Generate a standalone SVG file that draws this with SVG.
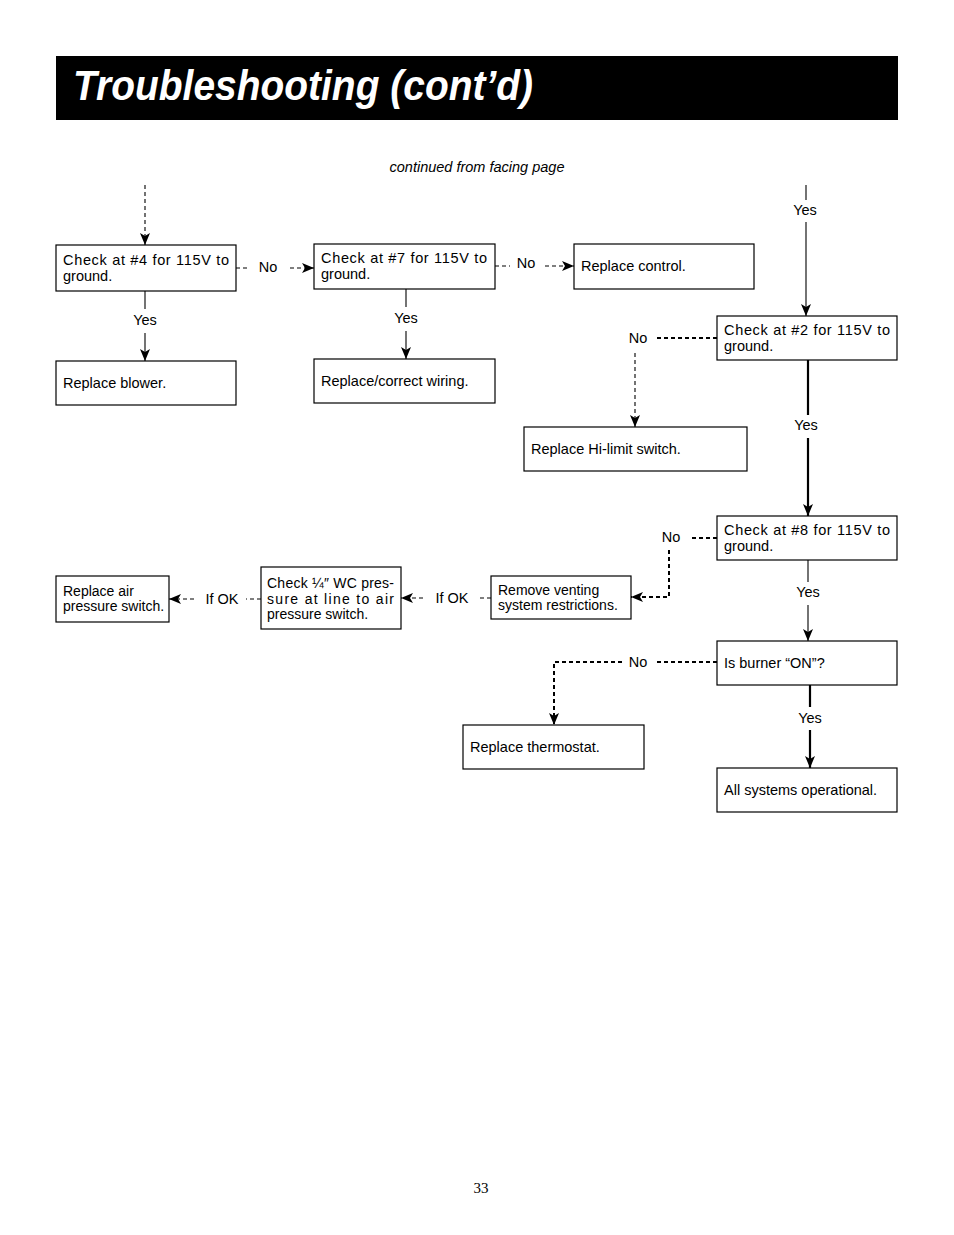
<svg xmlns="http://www.w3.org/2000/svg" width="954" height="1235" viewBox="0 0 954 1235">
<style>
  .box { fill: #fff; stroke: #000; stroke-width: 1.2; }
  .t { font-family: "Liberation Sans", "DejaVu Sans", sans-serif; font-size: 14.5px; fill: #000; }
  .s { font-family: "Liberation Sans", "DejaVu Sans", sans-serif; font-size: 14px; fill: #000; }
  .lbl { font-family: "Liberation Sans", "DejaVu Sans", sans-serif; font-size: 14.5px; fill: #000; text-anchor: middle; }
  .thin { stroke: #000; stroke-width: 1.1; fill: none; }
  .thick { stroke: #000; stroke-width: 2.2; fill: none; }
  .dash { stroke: #000; stroke-width: 1.1; stroke-dasharray: 4 3; fill: none; }
  .dashb { stroke: #000; stroke-width: 2; stroke-dasharray: 4 3; fill: none; }
</style>
<defs>
  <marker id="ah" markerUnits="userSpaceOnUse" markerWidth="12" markerHeight="10" viewBox="0 0 12 10" refX="12" refY="5" orient="auto">
    <path d="M0,0 L12,5 L0,10 L3,5 z" fill="#000"/>
  </marker>
</defs>
<rect width="954" height="1235" fill="#fff"/>
<g id="header">
  <rect x="56" y="56" width="842" height="64" fill="#000"/>
  <text x="73" y="100" font-family="Liberation Sans, DejaVu Sans, sans-serif" font-size="42" font-weight="bold" font-style="italic" fill="#fff" textLength="460" lengthAdjust="spacingAndGlyphs">Troubleshooting (cont’d)</text>
</g>
<text x="477" y="172" font-family="Liberation Sans, DejaVu Sans, sans-serif" font-size="14.5" font-style="italic" text-anchor="middle">continued from facing page</text>

<g id="connectors">
  <!-- top dashed into B1 -->
  <line class="dash" x1="145" y1="185" x2="145" y2="245" marker-end="url(#ah)"/>
  <!-- B1 -> B2 No -->
  <line class="dash" x1="236" y1="268" x2="250" y2="268"/>
  <text class="lbl" x="268" y="272">No</text>
  <line class="dash" x1="290" y1="268" x2="314" y2="268" marker-end="url(#ah)"/>
  <!-- B1 -> B4 Yes -->
  <line class="thin" x1="145" y1="291" x2="145" y2="309"/>
  <text class="lbl" x="145" y="325">Yes</text>
  <line class="thin" x1="145" y1="333" x2="145" y2="361" marker-end="url(#ah)"/>
  <!-- B2 -> B5 Yes -->
  <line class="thin" x1="406" y1="289" x2="406" y2="307"/>
  <text class="lbl" x="406" y="323">Yes</text>
  <line class="thin" x1="406" y1="331" x2="406" y2="359" marker-end="url(#ah)"/>
  <!-- B2 -> B3 No -->
  <line class="dash" x1="495" y1="266" x2="510" y2="266"/>
  <text class="lbl" x="526" y="268">No</text>
  <line class="dash" x1="545" y1="266" x2="574" y2="266" marker-end="url(#ah)"/>
  <!-- top right Yes into B6 -->
  <line class="thin" x1="806" y1="185" x2="806" y2="200"/>
  <text class="lbl" x="805" y="215">Yes</text>
  <line class="thin" x1="806" y1="222" x2="806" y2="316" marker-end="url(#ah)"/>
  <!-- B6 No -> B7 -->
  <line class="dashb" x1="717" y1="338" x2="656" y2="338"/>
  <text class="lbl" x="638" y="343">No</text>
  <line class="dash" x1="635" y1="353" x2="635" y2="427" marker-end="url(#ah)"/>
  <!-- B6 Yes -> B8 -->
  <line class="thick" x1="808" y1="360" x2="808" y2="415"/>
  <text class="lbl" x="806" y="430">Yes</text>
  <line class="thick" x1="808" y1="438" x2="808" y2="516" marker-end="url(#ah)"/>
  <!-- B8 No -> B11 -->
  <line class="dashb" x1="717" y1="538" x2="692" y2="538"/>
  <text class="lbl" x="671" y="542">No</text>
  <polyline class="dashb" points="669,550 669,597 631,597" marker-end="url(#ah)"/>
  <!-- B8 Yes -> B12 -->
  <line class="thin" x1="808" y1="560" x2="808" y2="582"/>
  <text class="lbl" x="808" y="597">Yes</text>
  <line class="thin" x1="808" y1="605" x2="808" y2="641" marker-end="url(#ah)"/>
  <!-- B11 -> B10 If OK -->
  <line class="dash" x1="491" y1="598" x2="478" y2="598"/>
  <text class="lbl" x="452" y="603">If OK</text>
  <line class="dash" x1="423" y1="598" x2="401" y2="598" marker-end="url(#ah)"/>
  <!-- B10 -> B9 If OK -->
  <line class="dash" x1="261" y1="599" x2="246" y2="599"/>
  <text class="lbl" x="222" y="604">If OK</text>
  <line class="dash" x1="194" y1="599" x2="169" y2="599" marker-end="url(#ah)"/>
  <!-- B12 No -> B13 -->
  <line class="dashb" x1="717" y1="662" x2="656" y2="662"/>
  <text class="lbl" x="638" y="667">No</text>
  <polyline class="dashb" points="622,662 554,662 554,725" marker-end="url(#ah)"/>
  <!-- B12 Yes -> B14 -->
  <line class="thick" x1="810" y1="685" x2="810" y2="707"/>
  <text class="lbl" x="810" y="723">Yes</text>
  <line class="thick" x1="810" y1="730" x2="810" y2="768" marker-end="url(#ah)"/>
</g>

<g id="n-check4">
  <rect class="box" x="56" y="245" width="180" height="46"/>
  <text class="t" x="63" y="265" textLength="166" lengthAdjust="spacing">Check at #4 for 115V to</text>
  <text class="t" x="63" y="281">ground.</text>
</g>
<g id="n-check7">
  <rect class="box" x="314" y="244" width="181" height="45"/>
  <text class="t" x="321" y="263" textLength="166" lengthAdjust="spacing">Check at #7 for 115V to</text>
  <text class="t" x="321" y="279">ground.</text>
</g>
<g id="n-replace-control">
  <rect class="box" x="574" y="244" width="180" height="45"/>
  <text class="t" x="581" y="271">Replace control.</text>
</g>
<g id="n-replace-blower">
  <rect class="box" x="56" y="361" width="180" height="44"/>
  <text class="t" x="63" y="388">Replace blower.</text>
</g>
<g id="n-replace-wiring">
  <rect class="box" x="314" y="359" width="181" height="44"/>
  <text class="t" x="321" y="386">Replace/correct wiring.</text>
</g>
<g id="n-check2">
  <rect class="box" x="717" y="316" width="180" height="44"/>
  <text class="t" x="724" y="335" textLength="166" lengthAdjust="spacing">Check at #2 for 115V to</text>
  <text class="t" x="724" y="351">ground.</text>
</g>
<g id="n-hilimit">
  <rect class="box" x="524" y="427" width="223" height="44"/>
  <text class="t" x="531" y="454">Replace Hi-limit switch.</text>
</g>
<g id="n-check8">
  <rect class="box" x="717" y="516" width="180" height="44"/>
  <text class="t" x="724" y="535" textLength="166" lengthAdjust="spacing">Check at #8 for 115V to</text>
  <text class="t" x="724" y="551">ground.</text>
</g>
<g id="n-air-switch">
  <rect class="box" x="56" y="576" width="113" height="46"/>
  <text class="s" x="63" y="596">Replace air</text>
  <text class="s" x="63" y="611">pressure switch.</text>
</g>
<g id="n-check-wc">
  <rect class="box" x="261" y="567" width="140" height="62"/>
  <text class="s" x="267" y="588" textLength="127" lengthAdjust="spacing">Check ¼″ WC pres-</text>
  <text class="s" x="267" y="604" textLength="127" lengthAdjust="spacing">sure at line to air</text>
  <text class="s" x="267" y="619">pressure switch.</text>
</g>
<g id="n-venting">
  <rect class="box" x="491" y="576" width="140" height="43"/>
  <text class="s" x="498" y="595">Remove venting</text>
  <text class="s" x="498" y="610">system restrictions.</text>
</g>
<g id="n-burner">
  <rect class="box" x="717" y="641" width="180" height="44"/>
  <text class="t" x="724" y="668">Is burner “ON”?</text>
</g>
<g id="n-thermostat">
  <rect class="box" x="463" y="725" width="181" height="44"/>
  <text class="t" x="470" y="752">Replace thermostat.</text>
</g>
<g id="n-operational">
  <rect class="box" x="717" y="768" width="180" height="44"/>
  <text class="t" x="724" y="795">All systems operational.</text>
</g>
<text x="481" y="1193" font-family="Liberation Serif, serif" font-size="15" text-anchor="middle">33</text>
</svg>
